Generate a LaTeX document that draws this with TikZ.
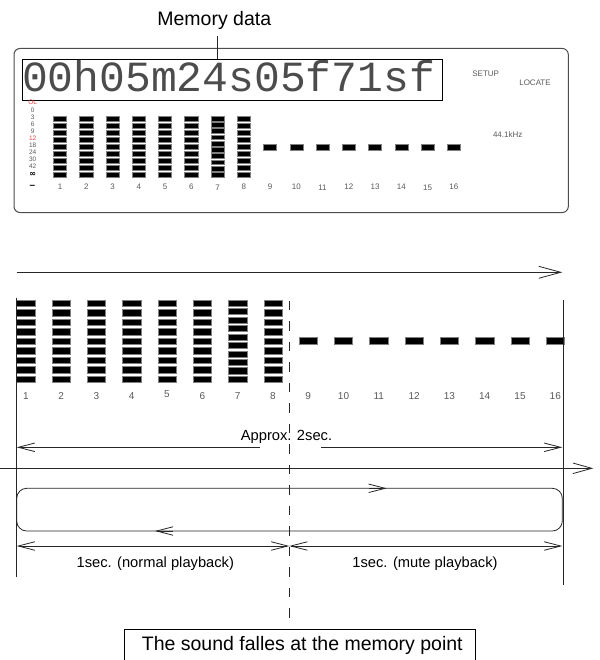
\documentclass[tikz,border=0pt]{standalone}
\usepackage{fontspec}
\setmainfont{Liberation Sans}
\newfontfamily\lcdfont{Liberation Mono}
\newfontfamily\symfont{DejaVu Sans}
\usetikzlibrary{arrows.meta}
\definecolor{lcdgray}{gray}{0.35}
\definecolor{lcdred}{rgb}{0.9,0.25,0.25}
\tikzset{
  seg/.style={fill=black, draw=black!50, line width=0.4pt},
  ln/.style={line width=0.8pt, draw=black!85},
  lcdlbl/.style={font=\fontsize{8}{8}\selectfont, text=lcdgray, inner sep=0pt},
  scl/.style={font=\fontsize{6.5}{6.5}\selectfont, text=lcdgray, inner sep=0pt},
  chl/.style={font=\fontsize{10}{10}\selectfont, text=lcdgray, inner sep=0pt},
  lab/.style={font=\fontsize{14.7}{14.7}\selectfont, inner sep=0pt, anchor=base},
  bigbarb/.style={-{Straight Barb[length=22pt,width=12pt]}},
  midbarb/.style={-{Straight Barb[length=19pt,width=10.6pt]}},
  smbarb/.style={-{Straight Barb[length=16.5pt,width=8.5pt]}},
  dblbarb/.style={{Straight Barb[length=16.5pt,width=8.5pt]}-{Straight Barb[length=16.5pt,width=8.5pt]}}
}
\begin{document}
\begin{tikzpicture}[x=1pt,y=-1pt]
\useasboundingbox (0,0) rectangle (599,660);

% ---------- LCD panel ----------
\node[font=\fontsize{19.5}{19.5}\selectfont, inner sep=0pt, anchor=base] (mem) at (214.3,25.3) {Memory data};
\draw[line width=1pt, draw=black!70, rounded corners=6pt] (14,48.5) rectangle (568.3,212.5);
\node[draw, line width=1pt, minimum width=420.3pt, minimum height=41pt, inner sep=0pt, anchor=north west] (lcd) at (22,59.5) {};
\node[font=\lcdfont\fontsize{43}{43}\selectfont, text=black!70, inner sep=0pt, anchor=base west] (time) at (21.8,91.7) {00h05m24s05f71sf};
\coordinate (mtop) at (217,36);
\draw[ln] (mtop) -- (mtop |- lcd.north);

\node[lcdlbl] (setup) at (485.7,73.3) {SETUP};
\node[lcdlbl] (locate) at (535,82.7) {LOCATE};
\node[lcdlbl] (khz) at (507.7,134.3) {44.1kHz};

% scale
\node[scl, text=lcdred] (sOL) at (32.7,102.7) {OL};
\node[scl] (s0) at (32.7,110) {0};
\node[scl] (s3) at (32.7,117.7) {3};
\node[scl] (s6) at (32.7,124.3) {6};
\node[scl] (s9) at (32.7,131.3) {9};
\node[scl, text=lcdred] (s12) at (32.7,138.7) {12};
\node[scl] (s18) at (32.7,145.3) {18};
\node[scl] (s24) at (32.7,152.7) {24};
\node[scl] (s30) at (32.7,159.3) {30};
\node[scl] (s42) at (32.7,166.7) {42};
\node[font=\symfont\bfseries\fontsize{8}{8}\selectfont, text=black, inner sep=0pt] (sinf) at (32.7,174.3) {∞};
\node[font=\fontsize{10}{10}\selectfont\bfseries, inner sep=0pt] (sdash) at (32.3,186.7) {–};

% top meters 1-8
\foreach \i in {1,...,8} {
  \pgfmathsetmacro\cx{60+(\i-1)*26.25}
  \pgfmathtruncatemacro\nr{\i==7 ? 10 : 9}
  \pgfmathsetmacro\pit{\i==7 ? 6.25 : 7.0}
  \pgfmathsetmacro\sh{\i==7 ? 4.8 : 5.3}
  \foreach \k in {1,...,\nr} {
    \fill[seg] ({\cx-6.65},{116+(\k-1)*\pit}) rectangle ++(13.3,\sh);
  }
}
% top dashes 9-16
\foreach \i in {9,...,16} {
  \pgfmathsetmacro\cx{60+(\i-1)*26.25}
  \fill[seg] ({\cx-6.5},144) rectangle ++(13,6);
}
% top channel labels
\foreach \i in {1,...,16} {
  \pgfmathsetmacro\cx{60+(\i-1)*26.25}
  \pgfmathsetmacro\cy{(\i==7 || \i==11 || \i==15) ? 187.7 : 186.7}
  \node[lcdlbl] (t\i) at (\cx,\cy) {\i};
}

% ---------- lower diagram ----------
\coordinate (ta) at (16.7,272.3);
\coordinate (tb) at (562.3,272.3);
\draw[ln, bigbarb] (ta) -- (tb);

% lower meters 1-8
\foreach \i in {1,...,8} {
  \pgfmathsetmacro\cx{25.8+(\i-1)*35.3}
  \pgfmathtruncatemacro\nr{\i==7 ? 10 : 9}
  \pgfmathsetmacro\pit{\i==7 ? 8.46 : 9.475}
  \pgfmathsetmacro\sh{\i==7 ? 6.2 : 6.5}
  \foreach \k in {1,...,\nr} {
    \fill[seg] ({\cx-9.15},{300+(\k-1)*\pit}) rectangle ++(18.3,\sh);
  }
}
\foreach \i in {9,...,16} {
  \pgfmathsetmacro\cx{25.8+(\i-1)*35.3}
  \fill[seg] ({\cx-9.15},337.4) rectangle ++(18.3,6.7);
}
\foreach \i in {1,...,16} {
  \pgfmathsetmacro\cx{25.8+(\i-1)*35.3}
  \pgfmathsetmacro\cy{(\i==5) ? 394.2 : 395.7}
  \node[chl] (b\i) at (\cx,\cy) {\i};
}

% vertical guide lines
\coordinate (vl1) at (16.7,297.7);
\coordinate (vl2) at (16.7,576.7);
\coordinate (vr1) at (563.3,300);
\coordinate (vr2) at (563.3,585);
\coordinate (vm1) at (289.3,300.7);
\coordinate (vm2) at (289.3,621.7);
\draw[ln] (vl1) -- (vl2);
\draw[ln] (vr1) -- (vr2);
\draw[ln, dash pattern=on 9.5pt off 11pt] (vm1) -- (vm2);

% Approx. 2sec.
\node[lab] (approx) at (286.5,440.7) {Approx. 2sec.};
\coordinate (a1) at (260,447.3);
\coordinate (a2) at (16.7,447.3);
\coordinate (a3) at (321,447.3);
\coordinate (a4) at (562.3,447.3);
\draw[ln, smbarb] (a1) -- (a2);
\draw[ln, smbarb] (a3) -- (a4);

% long time axis
\coordinate (h1) at (0,468.3);
\coordinate (h2) at (593.3,468.3);
\draw[ln, midbarb] (h1) -- (h2);

% loop
\draw[ln, rounded corners=10pt] (16.7,488.3) rectangle (562.3,531);
\coordinate (r1) at (369,488.3);
\coordinate (r2) at (386.7,488.3);
\coordinate (r3) at (173,531);
\coordinate (r4) at (155,531);
\draw[ln, smbarb] (r1) -- (r2);
\draw[ln, smbarb] (r3) -- (r4);

% 1 sec arrows
\coordinate (s1) at (16.7,546);
\coordinate (s2) at (289.3,546);
\coordinate (s3) at (562.3,546);
\draw[ln, dblbarb] (s1) -- (s2);
\draw[ln, dblbarb] (s2) -- (s3);
\node[lab] (normal) at (155.3,567.3) {1sec. (normal playback)};
\node[lab] (mute) at (425,567.3) {1sec. (mute playback)};

% bottom box
\node[font=\fontsize{19.5}{19.5}\selectfont, inner sep=0pt, anchor=base] (sound) at (302.3,650) {The sound falles at the memory point};
\draw[line width=1pt] (124,661) |- (475.7,629) -- (475.7,661);
\end{tikzpicture}
\end{document}
